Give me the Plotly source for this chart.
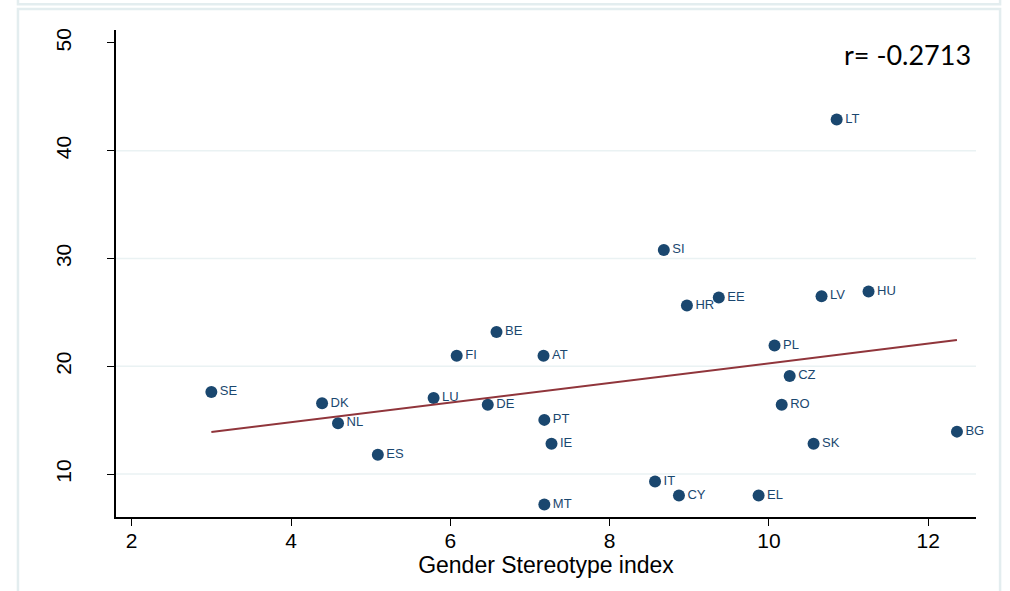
import plotly.graph_objects as go

countries = ["SE", "DK", "NL", "ES", "LU", "DE", "FI", "BE", "AT", "PT", "IE", "MT",
             "IT", "CY", "EL", "SI", "HR", "EE", "PL", "CZ", "RO", "SK", "LV", "LT",
             "HU", "BG"]
stereotype = [3.00, 4.39, 4.59, 5.09, 5.79, 6.47, 6.08, 6.58, 7.17, 7.18, 7.27, 7.18,
              8.57, 8.87, 9.87, 8.68, 8.97, 9.37, 10.07, 10.26, 10.16, 10.56, 10.66, 10.85,
              11.25, 12.36]
outcome = [17.62, 16.57, 14.72, 11.79, 17.06, 16.44, 20.97, 23.19, 20.97, 15.03, 12.81, 7.19,
           9.31, 8.02, 8.02, 30.80, 25.65, 26.39, 21.94, 19.10, 16.44, 12.81, 26.51, 42.90,
           26.94, 13.94]

fit_x = [3.0, 12.36]
fit_y = [13.9, 22.43]

x_ticks = [2, 4, 6, 8, 10, 12]
y_ticks = [10, 20, 30, 40, 50]
grid_vals = [10, 20, 30, 40]
r_label = "r= -0.2713"
x_title = "Gender Stereotype index"

NAVY = "#1a476f"
RED = "#90353b"
GRID = "#eaf2f3"
FRAME = "#e3edef"

fig = go.Figure()

fig.add_trace(go.Scatter(
    x=stereotype, y=outcome, mode="markers+text", text=countries,
    textposition="middle right",
    marker=dict(color=NAVY, size=12, line=dict(width=0)),
    textfont=dict(family="Liberation Sans, Arial, sans-serif", size=13, color=NAVY),
    showlegend=False, cliponaxis=False,
))

fig.add_trace(go.Scatter(
    x=fit_x, y=fit_y, mode="lines",
    line=dict(color=RED, width=2),
    showlegend=False,
))

shapes = []
for g in grid_vals:
    shapes.append(dict(type="line", xref="paper", yref="y", x0=0, x1=1, y0=g, y1=g,
                       line=dict(color=GRID, width=1.5), layer="below"))
# outer panel frames
shapes.append(dict(type="rect", xref="paper", yref="paper",
                   x0=-0.114, x1=1.028, y0=-0.2, y1=1.043,
                   line=dict(color=FRAME, width=2.5), layer="below"))
shapes.append(dict(type="rect", xref="paper", yref="paper",
                   x0=-0.114, x1=1.028, y0=1.053, y1=1.2,
                   line=dict(color=FRAME, width=2.5), layer="below"))

fig.update_layout(
    width=1010, height=591,
    margin=dict(l=116, r=34, t=30, b=74),
    paper_bgcolor="white", plot_bgcolor="white",
    shapes=shapes,
    font=dict(family="Liberation Sans, Arial, sans-serif", color="black"),
    xaxis=dict(
        range=[1.803, 12.599], tickvals=x_ticks, ticktext=[str(t) for t in x_ticks],
        showgrid=False, zeroline=False, showline=True, linecolor="black", linewidth=1.5,
        ticks="outside", ticklen=7, tickwidth=1.2, tickcolor="black",
        tickfont=dict(size=21), ticklabelstandoff=-3,
        title=dict(text=x_title, font=dict(size=23), standoff=0),
    ),
    yaxis=dict(
        range=[6.02, 51.2], tickvals=y_ticks, ticktext=[str(t) for t in y_ticks],
        showgrid=False, zeroline=False, showline=True, linecolor="black", linewidth=1.5,
        ticks="outside", ticklen=7, tickwidth=1.2, tickcolor="black",
        tickangle=-90, tickfont=dict(size=21), ticklabelstandoff=28,
    ),
    annotations=[dict(
        text=r_label, xref="paper", yref="paper", x=0.92, y=0.949,
        xanchor="center", yanchor="middle", showarrow=False,
        font=dict(family="Lato, Open Sans, sans-serif", size=27, color="black"),
    )],
)

fig.write_html("out.html", config={"displayModeBar": False},
               post_script="document.body.style.margin='0px';")
